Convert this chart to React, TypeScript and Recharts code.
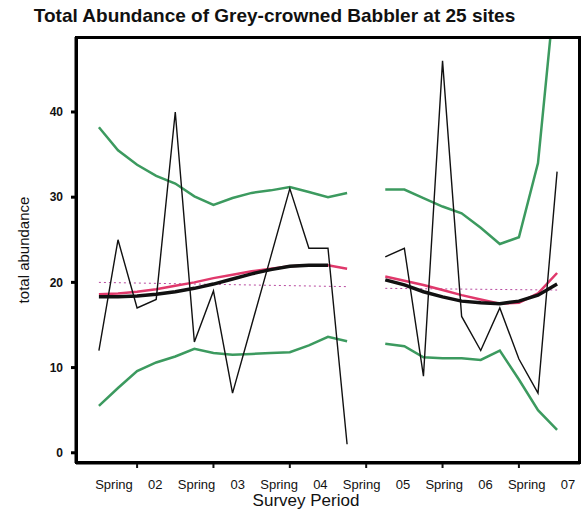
import React from 'react';
import { LineChart, Line, XAxis, YAxis, Label } from 'recharts';

// survey index (half-yearly periods), 14 is the missing survey
const period = [0, 1, 2, 3, 4, 5, 6, 7, 8, 9, 10, 11, 12, 13, 14, 15, 16, 17, 18, 19, 20, 21, 22, 23, 24];

const abundance = [12, 25, 17, 18, 40, 13, 19, 7, 15, 23, 31, 24, 24, 1, null, 23, 24, 9, 46, 16, 12, 17, 11, 7, 33];
const trend = [18.3, 18.3, 18.4, 18.6, 18.9, 19.3, 19.8, 20.4, 21.0, 21.5, 21.9, 22.0, 22.0, null, null, 20.3, 19.7, 18.9, 18.3, 17.8, 17.6, 17.5, 17.8, 18.5, 19.8];
const smooth = [18.6, 18.7, 18.9, 19.2, 19.6, 20.0, 20.5, 20.9, 21.3, 21.6, 21.9, 22.0, 22.0, 21.6, null, 20.7, 20.2, 19.7, 19.1, 18.5, 18.0, 17.5, 17.6, 18.7, 21.1];
const upper = [38.2, 35.5, 33.8, 32.5, 31.6, 30.1, 29.1, 29.9, 30.5, 30.8, 31.2, 30.6, 30.0, 30.5, null, 30.9, 30.9, 29.9, 28.9, 28.1, 26.4, 24.5, 25.3, 34.0, 56.8];
const lower = [5.5, 7.6, 9.6, 10.6, 11.3, 12.2, 11.7, 11.5, 11.6, 11.7, 11.8, 12.6, 13.6, 13.1, null, 12.8, 12.5, 11.2, 11.1, 11.1, 10.9, 12.0, 8.6, 5.0, 2.7];
// overall mean line, drawn as two straight pieces
const meanA = [20.0, null, null, null, null, null, null, null, null, null, null, null, null, 19.5, null, null, null, null, null, null, null, null, null, null, null];
const meanB = [null, null, null, null, null, null, null, null, null, null, null, null, null, null, null, 19.3, null, null, null, null, null, null, null, null, 19.1];

const yTicks = [0, 10, 20, 30, 40];
const xTicks = [2, 6, 10, 14, 18, 22];
const periodLabels = ['Spring', '02', 'Spring', '03', 'Spring', '04', 'Spring', '05', 'Spring', '06', 'Spring', '07'];
const labelPos = [0, 1, 2, 3, 4, 5, 6, 7, 8, 9, 10, 11];

const rows = period.map((p, i) => ({
  period: p,
  abundance: abundance[i],
  trend: trend[i],
  smooth: smooth[i],
  upper: upper[i],
  lower: lower[i],
  meanA: meanA[i],
  meanB: meanB[i],
}));

const GREEN = '#3c9a5f';
const PINK = '#e0386b';
const INK = '#111111';

const W = 587;
const H = 520;
const margin = { top: 37, right: 7, bottom: 0, left: 0 };
const yAxisWidth = 76;
const xAxisHeight = 8 + 49;

function XTickMark({ x, y }: any) {
  return <line x1={x} y1={y} x2={x} y2={y + 5} stroke={INK} strokeWidth={2} />;
}

function YTick({ x, y, payload }: any) {
  return (
    <g>
      <rect x={x - 5} y={y - 1.5} width={6} height={3} fill='#000' />
      <text x={x - 13} y={y} dy='0.36em' textAnchor='end' fontSize={12} fontWeight='bold' fill={INK}>
        {payload.value}
      </text>
    </g>
  );
}

export default function App() {
  const plotLeft = margin.left + yAxisWidth;
  const plotTop = margin.top;
  const plotW = W - plotLeft - margin.right;
  const plotH = H - plotTop - margin.bottom - xAxisHeight;
  return (
    <div style={{ position: 'absolute', left: 0, top: 0, width: W, height: H, background: '#fff', fontFamily: '"Liberation Sans", Arial, sans-serif' }}>
      <div style={{ position: 'absolute', left: 0, top: 5, width: 549, textAlign: 'center', fontSize: 19, lineHeight: '22px', fontWeight: 'bold', color: INK }}>
        Total Abundance of Grey-crowned Babbler at 25 sites
      </div>
      <LineChart width={W} height={H} data={rows} margin={margin}>
        <XAxis
          dataKey='period'
          type='number'
          domain={[-1.2, 25.2]}
          allowDataOverflow
          ticks={xTicks}
          interval={0}
          tick={<XTickMark />}
          tickLine={false}
          tickSize={0}
          tickMargin={0}
          height={8}
          stroke='#000'
          strokeWidth={3}
        />
        <XAxis
          xAxisId='labels'
          dataKey='period'
          type='number'
          domain={[-0.92, 11.29]}
          allowDataOverflow
          ticks={labelPos}
          interval={0}
          tickFormatter={(v) => periodLabels[v]}
          axisLine={false}
          tickLine={false}
          tickMargin={3}
          height={49}
          tick={{ fill: INK, fontSize: 13 }}
        >
          <Label
            content={({ viewBox }: any) => (
              <text x={306} y={viewBox.y + viewBox.height - 14} textAnchor='middle' fontSize={17} fill={INK}>
                Survey Period
              </text>
            )}
          />
        </XAxis>
        <YAxis
          type='number'
          domain={[-1.2, 48.8]}
          allowDataOverflow
          ticks={yTicks}
          interval={0}
          width={yAxisWidth}
          tickSize={0}
          tickMargin={0}
          tickLine={false}
          stroke='#000'
          strokeWidth={3}
          tick={<YTick />}
        >
          <Label
            content={({ viewBox }: any) => {
              const cx = 23;
              const cy = viewBox.y + viewBox.height / 2;
              return (
                <text x={cx} y={cy} transform={`rotate(-90 ${cx} ${cy})`} textAnchor='middle' dominantBaseline='central' fontSize={15} fill={INK}>
                  total abundance
                </text>
              );
            }}
          />
        </YAxis>
        <Line dataKey='upper' stroke={GREEN} strokeWidth={2.5} dot={false} type='linear' isAnimationActive={false} />
        <Line dataKey='lower' stroke={GREEN} strokeWidth={2.5} dot={false} type='linear' isAnimationActive={false} />
        <Line dataKey='meanA' stroke='#b84aa0' strokeWidth={1} strokeDasharray='2 3' dot={false} connectNulls isAnimationActive={false} />
        <Line dataKey='meanB' stroke='#b84aa0' strokeWidth={1} strokeDasharray='2 3' dot={false} connectNulls isAnimationActive={false} />
        <Line dataKey='smooth' stroke={PINK} strokeWidth={2.5} dot={false} type='linear' isAnimationActive={false} />
        <Line dataKey='trend' stroke={INK} strokeWidth={3.5} dot={false} type='linear' isAnimationActive={false} />
        <Line dataKey='abundance' stroke={INK} strokeWidth={1.4} dot={false} type='linear' isAnimationActive={false} />
      </LineChart>
      {/* frame round the plot area */}
      <div
        style={{
          position: 'absolute',
          left: plotLeft - 1,
          top: plotTop - 1,
          width: plotW + 2,
          height: plotH + 2,
          boxSizing: 'border-box',
          border: '3px solid #000',
          pointerEvents: 'none',
        }}
      />
    </div>
  );
}
